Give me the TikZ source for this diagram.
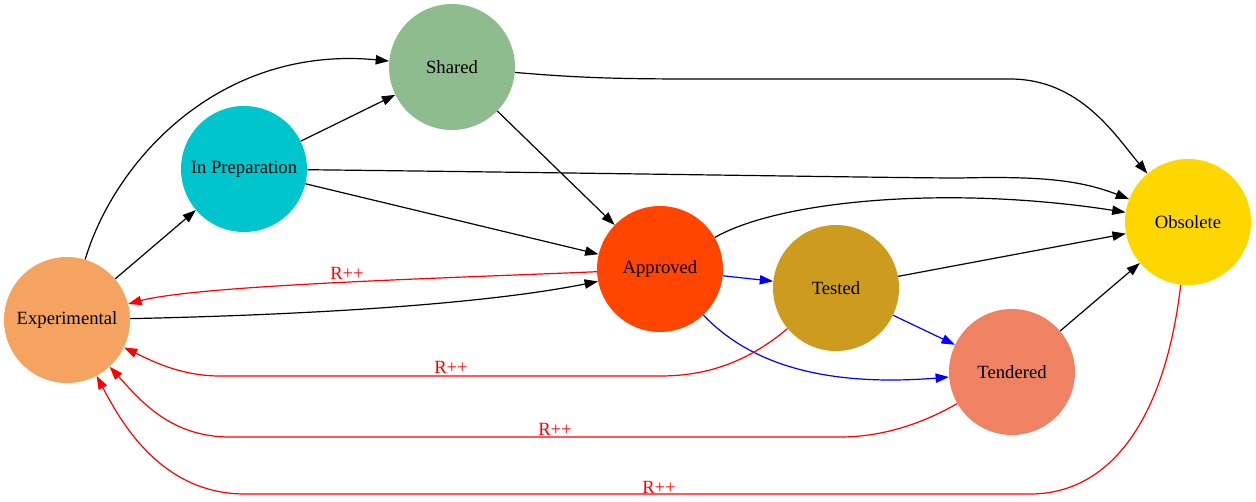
\documentclass[tikz,border=0pt]{standalone}
\usepackage{fontspec}
\setmainfont{Liberation Serif}
\usetikzlibrary{arrows.meta}
\definecolor{sandy}{HTML}{F4A460}
\definecolor{turq}{HTML}{00C5CD}
\definecolor{seagreen}{HTML}{8FBC8F}
\definecolor{orred}{HTML}{FF4500}
\definecolor{golden}{HTML}{CD9B1D}
\definecolor{salmon}{HTML}{EE8262}
\definecolor{gold}{HTML}{FFD700}
\tikzstyle{state} = [circle, minimum size=94.5pt, inner sep=0pt, text centered, font=\fontsize{14}{16}\selectfont]
\tikzstyle{arrow} = [line width=0.9pt, -{Triangle[length=10pt,width=7pt]}]
\tikzstyle{back} = [arrow, red]
\tikzstyle{test} = [arrow, blue]
\tikzstyle{lbl} = [red, font=\fontsize{14}{16}\selectfont]

\begin{document}
\begin{tikzpicture}[x=0.75pt, y=-0.75pt]
\useasboundingbox (0,0) rectangle (1256,501);
\node (exp) [state, fill=sandy] at (67,320) {Experimental};
\node (prep) [state, fill=turq] at (244,169) {In Preparation};
\node (shared) [state, fill=seagreen] at (452,67) {Shared};
\node (appr) [state, fill=orred] at (660,269) {Approved};
\node (tested) [state, fill=golden] at (836,288) {Tested};
\node (tend) [state, fill=salmon] at (1012,372) {Tendered};
\node (obs) [state, fill=gold] at (1188,222) {Obsolete};
% forward
\draw [arrow] (exp) .. controls (115,160) and (220,45) .. (shared);
\draw [arrow] (exp) -- (prep);
\draw [arrow] (prep) -- (shared);
\draw [arrow] (shared) .. controls (580,78) and (620,79) .. (700,79) -- (1010,79) .. controls (1080,79) and (1115,135) .. (obs);
\draw [arrow] (shared) -- (appr);
\draw [arrow] (prep) .. controls (600,173) and (900,178) .. (960,178) .. controls (1040,176) and (1080,180) .. (obs);
\draw [arrow] (prep) -- (appr);
\draw [arrow] (appr) .. controls (780,200) and (950,185) .. (obs);
\draw [arrow] (exp) .. controls (300,315) and (480,305) .. (appr);
\draw [arrow] (tested) -- (obs);
\draw [arrow] (tend) -- (obs);
% tests
\draw [test] (appr) -- (tested);
\draw [test] (tested) -- (tend);
\draw [test] (appr) .. controls (760,375) and (850,385) .. (tend);
% back to experimental
\draw [back] (appr) .. controls (450,278) and (200,285) .. (exp);
\node (r1) [lbl] at (347,273) {R++};
\draw [back] (tested) .. controls (750,360) and (710,376) .. (660,376) -- (220,376) .. controls (180,376) and (150,360) .. (exp);
\node (r2) [lbl] at (451,367) {R++};
\draw [back] (tend) .. controls (920,425) and (880,437) .. (840,437) -- (230,437) .. controls (170,437) and (140,400) .. (exp);
\node (r3) [lbl] at (555,429) {R++};
\draw [back] (obs) .. controls (1165,420) and (1110,494) .. (1030,494) -- (245,494) .. controls (160,494) and (120,420) .. (exp);
\node (r4) [lbl] at (659,487) {R++};
\end{tikzpicture}
\end{document}
